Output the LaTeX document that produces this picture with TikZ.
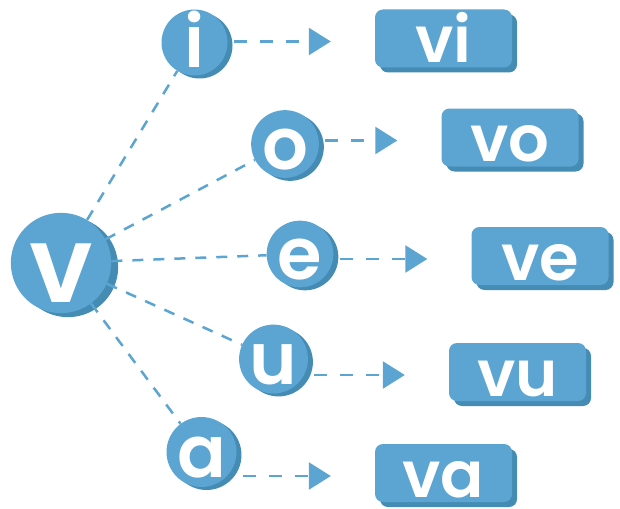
\documentclass[tikz,border=0pt]{standalone}
\usepackage{fontspec}
\setmainfont{Poppins}
\newfontfamily\sylfont{Poppins SemiBold}
\usetikzlibrary{arrows.meta,shadows}
\definecolor{syl-blau}{RGB}{92,164,209}
\definecolor{syl-dunkel}{RGB}{69,140,180}

\begin{document}
\begin{tikzpicture}[x=1pt,y=-1pt,
    disc/.style={circle,fill=syl-blau,inner sep=0pt,text=white,text depth=0pt},
    letter/.style={disc,minimum size=66pt,text height=50pt,
      font=\sylfont\fontsize{72}{72}\selectfont,
      general shadow={fill=syl-dunkel,shadow xshift=5pt,shadow yshift=-3pt}},
    root/.style={disc,minimum size=96pt,text height=78pt,
      font=\sylfont\fontsize{106}{106}\selectfont,
      general shadow={fill=syl-dunkel,shadow xshift=7pt,shadow yshift=-4pt}},
    syllable/.style={rectangle,rounded corners=8pt,fill=syl-blau,inner sep=0pt,
      minimum width=137pt,minimum height=58pt,text=white,text height=48pt,text depth=0pt,
      font=\sylfont\fontsize{64}{64}\selectfont,
      general shadow={fill=syl-dunkel,shadow xshift=5pt,shadow yshift=-5pt}},
    link/.style={draw=syl-blau,line width=2.5pt,dash pattern=on 11pt off 10pt},
    flow/.style={link,dash pattern=on 13pt off 13pt,-{Triangle[length=22pt,width=27pt]},
      shorten <=6pt,shorten >=44pt}]
    \useasboundingbox (0,0) rectangle (620,508);
    \node[root] (v) at (61,263) {v};
    \foreach \ch/\x/\y/\bx/\by in {i/194.5/42.5/443.5/38.5,o/285/144/510/137.5,
        e/300/254/540/256,u/273.5/359/517.5/372,a/201.5/452/443.5/473}{
      \node[letter] (\ch) at (\x,\y) {\ch};
      \node[syllable] (v\ch) at (\bx,\by) {v\ch};
      \draw[link] (v) -- (\ch);
      \draw[flow] ([yshift=-3pt]\ch.east |- v\ch.west) -- ([yshift=-3pt]v\ch.west);
    }
  \end{tikzpicture}
\end{document}
